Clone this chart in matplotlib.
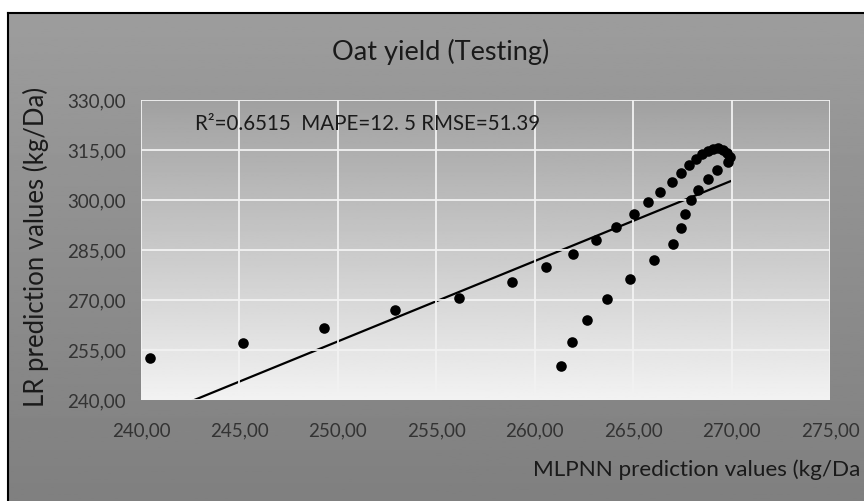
import numpy as np
import matplotlib
matplotlib.use('Agg')
import matplotlib.pyplot as plt

plt.rcParams['font.family'] = ['Lato', 'DejaVu Sans']

# MLPNN predictions (x) and LR predictions (y)
mlpnn = [240.46, 245.16, 249.31, 252.91, 256.13, 258.85, 260.56,
         261.94, 263.13, 264.15, 265.03, 265.77, 266.38, 266.95, 267.43,
         267.82, 268.17, 268.51, 268.80, 269.05, 269.31, 269.56, 269.78,
         269.93, 269.81, 269.26, 268.78, 268.27, 267.93, 267.61, 267.41,
         267.01, 266.04, 264.86, 263.69, 262.68, 261.90, 261.36]
lr = [252.7, 257.0, 261.6, 266.9, 270.5, 275.5, 279.8,
      283.9, 287.9, 291.9, 295.9, 299.3, 302.5, 305.5, 308.2,
      310.4, 312.2, 313.7, 314.7, 315.3, 315.5, 315.0, 314.2,
      313.0, 311.3, 309.1, 306.4, 303.1, 299.9, 295.8, 291.5,
      286.8, 281.9, 276.2, 270.2, 263.9, 257.3, 250.2]

# Linear trend line coefficients (as drawn)
trend_slope = 2.41
trend_intercept = -344.92

x_ticks = [240, 245, 250, 255, 260, 265, 270, 275]
y_ticks = [240, 255, 270, 285, 300, 315, 330]

title = "Oat yield (Testing)"
stats_text = "R²=0.6515  MAPE=12. 5 RMSE=51.39"
x_label = "MLPNN prediction values (kg/Da"   # as visible (truncated in the original)
y_label = "LR prediction values (kg/Da)"

W, H = 864, 501
fig = plt.figure(figsize=(W / 100, H / 100), dpi=100, facecolor='white')

# Outer chart area background (gradient) with black top/left border
bg = fig.add_axes([8 / W, 0, 1 - 8 / W, (H - 13) / H])
grad = np.linspace(0.615, 0.50, 256).reshape(-1, 1)
bg.imshow(grad, aspect='auto', cmap='gray', vmin=0, vmax=1,
          extent=[0, 1, 0, 1], origin='upper')
bg.set_xlim(0, 1)
bg.set_ylim(0, 1)
bg.set_xticks([])
bg.set_yticks([])
for s in ['right', 'bottom']:
    bg.spines[s].set_visible(False)
for s in ['top', 'left']:
    bg.spines[s].set_color('black')
    bg.spines[s].set_linewidth(1.5)

# Plot area
ax = fig.add_axes([141 / W, 1 - 400 / H, (830 - 141) / W, 300 / H])
pgrad = np.linspace(0.63, 0.95, 256).reshape(-1, 1)
ax.imshow(pgrad[::-1], aspect='auto', cmap='gray', vmin=0, vmax=1,
          extent=[240, 275, 240, 330], origin='lower', zorder=0)
ax.set_xlim(240, 275)
ax.set_ylim(240, 330)
ax.set_xticks(x_ticks)
ax.set_yticks(y_ticks)
ax.set_xticklabels([f"{v:.2f}".replace('.', ',') for v in x_ticks])
ax.set_yticklabels([f"{v:.2f}".replace('.', ',') for v in y_ticks])
ax.tick_params(length=0, labelsize=13.5, colors='#333333')
ax.tick_params(axis='y', pad=11)
ax.tick_params(axis='x', pad=16)
ax.grid(True, color='#f2f2f2', linewidth=1.3, zorder=1)
ax.set_axisbelow(False)
for s in ax.spines.values():
    s.set_visible(False)

ax.scatter(mlpnn, lr, s=58, color='black', zorder=3, linewidths=0)
tx = np.array([min(mlpnn), max(mlpnn)])
ax.plot(tx, trend_slope * tx + trend_intercept, color='black', lw=1.6, zorder=2)

fig.text(441 / W, 1 - 52 / H, title, ha='center', va='center',
         fontsize=19.5, color='#1a1a1a')
fig.text(195 / W, 1 - 124 / H, stats_text, ha='left', va='center',
         fontsize=14.8, color='#1a1a1a')
fig.text(533 / W, 1 - 470 / H, x_label, ha='left', va='center',
         fontsize=16.2, color='#1a1a1a')
fig.text(36 / W, 1 - 247 / H, y_label, ha='center', va='center',
         rotation=90, fontsize=18.5, color='#1a1a1a')

fig.savefig('out.png', dpi=100, facecolor='white')
